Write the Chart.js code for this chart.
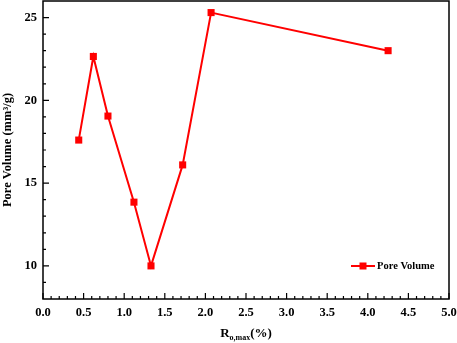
<!DOCTYPE html>
<html>
<head>
  <meta charset="UTF-8">
  <title>Pore Volume vs Ro,max</title>
  <script src="https://cdn.jsdelivr.net/npm/chart.js"></script>
  <style>
    html, body { margin: 0; padding: 0; background: #fff; }
    #wrap { width: 457px; height: 343px; }
  </style>
</head>
<body>
  <div id="wrap"><canvas id="chart"></canvas></div>
  <script>
    // data
    const roMax = [0.44, 0.62, 0.80, 1.12, 1.33, 1.72, 2.07, 4.25];
    const poreVolume = [17.6, 22.65, 19.05, 13.85, 10.0, 16.1, 25.3, 23.0];
    const xTicks = [0, 0.5, 1.0, 1.5, 2.0, 2.5, 3.0, 3.5, 4.0, 4.5, 5.0];
    const yTicks = [10, 15, 20, 25];

    const RED = "#ff0000";
    const FONT = "'Liberation Serif', 'Times New Roman', serif";

    // frame, inward ticks, x title with subscript, inset legend
    const decorations = {
      id: "decorations",
      afterDraw(chart) {
        const ctx = chart.ctx;
        const a = chart.chartArea;
        const xs = chart.scales.x;
        const ys = chart.scales.y;
        ctx.save();
        ctx.strokeStyle = "#000";
        ctx.lineWidth = 1.5;
        ctx.strokeRect(a.left, a.top, a.right - a.left, a.bottom - a.top);

        ctx.lineWidth = 1.2;
        ctx.beginPath();
        for (let i = 0; i <= 50; i++) {
          const px = xs.getPixelForValue(i / 10);
          const len = i % 5 === 0 ? 6 : 3;
          ctx.moveTo(px, a.bottom);
          ctx.lineTo(px, a.bottom - len);
        }
        for (let v = 9; v <= 25; v++) {
          const py = ys.getPixelForValue(v);
          const len = v % 5 === 0 ? 6 : 3;
          ctx.moveTo(a.left, py);
          ctx.lineTo(a.left + len, py);
        }
        ctx.stroke();

        // x axis title: R o,max (%)
        ctx.fillStyle = "#000";
        ctx.textBaseline = "alphabetic";
        const big = "bold 13px " + FONT;
        const small = "bold 8px " + FONT;
        ctx.font = big;
        const wR = ctx.measureText("R").width;
        const wP = ctx.measureText("(%)").width;
        ctx.font = small;
        const wS = ctx.measureText("o,max").width;
        const total = wR + wS + wP;
        let tx = (a.left + a.right) / 2 - total / 2;
        const ty = 337;
        ctx.font = big;
        ctx.fillText("R", tx, ty);
        tx += wR;
        ctx.font = small;
        ctx.fillText("o,max", tx, ty + 3);
        tx += wS;
        ctx.font = big;
        ctx.fillText("(%)", tx, ty);

        // legend inside plot
        const ly = 266;
        ctx.strokeStyle = RED;
        ctx.lineWidth = 2;
        ctx.beginPath();
        ctx.moveTo(351, ly);
        ctx.lineTo(375, ly);
        ctx.stroke();
        ctx.fillStyle = RED;
        ctx.fillRect(359.5, ly - 3.5, 7, 7);
        ctx.fillStyle = "#000";
        ctx.font = "bold 10.5px " + FONT;
        ctx.textBaseline = "middle";
        ctx.fillText(chart.data.datasets[0].label, 377, ly + 0.5);
        ctx.restore();
      }
    };

    new Chart(document.getElementById("chart"), {
      type: "line",
      data: {
        datasets: [{
          label: "Pore Volume",
          data: roMax.map((x, i) => ({ x: x, y: poreVolume[i] })),
          borderColor: RED,
          backgroundColor: RED,
          borderWidth: 2,
          pointStyle: "rect",
          pointRadius: 5,
          pointHoverRadius: 5,
          pointBorderWidth: 0,
          tension: 0
        }]
      },
      options: {
        responsive: true,
        maintainAspectRatio: false,
        animation: false,
        layout: { autoPadding: false, padding: { top: 1, right: 8, left: 0, bottom: 0 } },
        plugins: {
          legend: { display: false },
          tooltip: { enabled: false }
        },
        scales: {
          x: {
            type: "linear",
            min: 0,
            max: 5,
            grid: { display: false, drawTicks: false },
            border: { display: false },
            afterBuildTicks: s => { s.ticks = xTicks.map(v => ({ value: v })); },
            afterFit: s => { s.height = 44; s.paddingLeft = 0; s.paddingRight = 0; },
            ticks: {
              padding: 6,
              color: "#000",
              maxRotation: 0,
              autoSkip: false,
              font: { family: FONT, size: 12.5, weight: "bold" },
              callback: v => Number(v).toFixed(1)
            }
          },
          y: {
            min: 8,
            max: 26,
            grid: { display: false, drawTicks: false },
            border: { display: false },
            afterBuildTicks: s => { s.ticks = yTicks.map(v => ({ value: v })); },
            afterFit: s => { s.width = 43; s.paddingTop = 0; s.paddingBottom = 0; },
            title: {
              display: true,
              text: "Pore Volume (mm³/g)",
              color: "#000",
              padding: 0,
              font: { family: FONT, size: 12.5, weight: "bold" }
            },
            ticks: {
              padding: 6,
              color: "#000",
              autoSkip: false,
              font: { family: FONT, size: 12.5, weight: "bold" }
            }
          }
        }
      },
      plugins: [decorations]
    });
  </script>
</body>
</html>
